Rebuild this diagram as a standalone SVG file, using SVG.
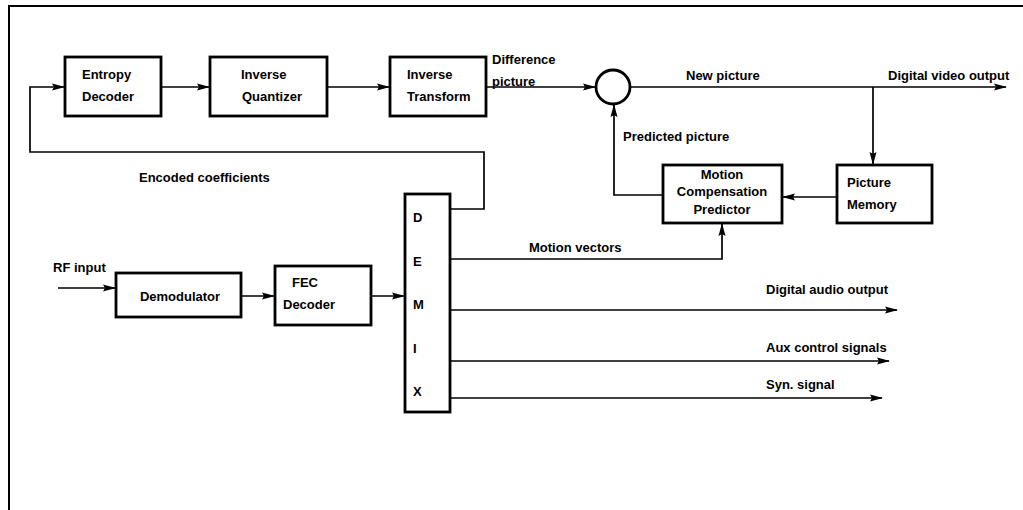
<svg xmlns="http://www.w3.org/2000/svg" width="1023" height="510" viewBox="0 0 1023 510">
<style>
.box{fill:#fff;stroke:#000;stroke-width:2.8}
.ln{fill:none;stroke:#000;stroke-width:1.7}
text{font-family:"Liberation Sans",Arial,sans-serif;font-size:13px;font-weight:bold;fill:#000}
.c{text-anchor:middle}
</style>
<defs>
<marker id="ah" markerWidth="13" markerHeight="8" refX="12" refY="4" orient="auto" markerUnits="userSpaceOnUse">
<path d="M0,0.5 L13,4 L0,7.5 L2,4 Z" fill="#000"/>
</marker>
</defs>
<rect width="1023" height="510" fill="#fff"/>
<g id="frame">
<line x1="8" y1="6" x2="1023" y2="6" stroke="#000" stroke-width="2"/>
<line x1="9" y1="5" x2="9" y2="510" stroke="#000" stroke-width="2"/>
</g>
<g id="connectors">
<line class="ln" x1="161" y1="87" x2="209" y2="87" marker-end="url(#ah)"/>
<line class="ln" x1="327" y1="87" x2="389" y2="87" marker-end="url(#ah)"/>
<line class="ln" x1="486" y1="87" x2="595" y2="87" marker-end="url(#ah)"/>
<line class="ln" x1="630" y1="87" x2="1006" y2="87" marker-end="url(#ah)"/>
<line class="ln" x1="873" y1="87" x2="873" y2="164" marker-end="url(#ah)"/>
<line class="ln" x1="837" y1="197" x2="783" y2="197" marker-end="url(#ah)"/>
<polyline class="ln" points="663,195 614,195 614,105" marker-end="url(#ah)"/>
<polyline class="ln" points="450,209 484,209 484,152 30,152 30,87 64,87" marker-end="url(#ah)"/>
<polyline class="ln" points="450,259 722,259 722,224" marker-end="url(#ah)"/>
<line class="ln" x1="450" y1="310" x2="897" y2="310" marker-end="url(#ah)"/>
<line class="ln" x1="450" y1="361" x2="889" y2="361" marker-end="url(#ah)"/>
<line class="ln" x1="450" y1="398" x2="882" y2="398" marker-end="url(#ah)"/>
<line class="ln" x1="58" y1="288" x2="115" y2="288" marker-end="url(#ah)"/>
<line class="ln" x1="241" y1="296" x2="274" y2="296" marker-end="url(#ah)"/>
<line class="ln" x1="371" y1="296" x2="404" y2="296" marker-end="url(#ah)"/>
</g>
<g id="labels">
<text x="492" y="64">Difference</text>
<text x="492" y="86">picture</text>
<text x="686" y="80">New picture</text>
<text x="888" y="80">Digital video output</text>
<text x="623" y="141">Predicted picture</text>
<text x="139" y="182">Encoded coefficients</text>
<text x="529" y="252">Motion vectors</text>
<text x="766" y="294">Digital audio output</text>
<text x="766" y="352">Aux control signals</text>
<text x="766" y="389">Syn. signal</text>
<text x="53" y="272">RF input</text>
</g>
<g id="entropy-decoder">
<rect class="box" x="65" y="57" width="96" height="59"/>
<text x="82" y="79">Entropy</text>
<text x="82" y="101">Decoder</text>
</g>
<g id="inverse-quantizer">
<rect class="box" x="210" y="57" width="117" height="59"/>
<text x="241" y="79">Inverse</text>
<text x="242" y="101">Quantizer</text>
</g>
<g id="inverse-transform">
<rect class="box" x="390" y="57" width="96" height="59"/>
<text x="407" y="79">Inverse</text>
<text x="407" y="101">Transform</text>
</g>
<g id="adder">
<circle cx="613" cy="87" r="17" fill="#fff" stroke="#000" stroke-width="2.8"/>
</g>
<g id="picture-memory">
<rect class="box" x="837" y="165" width="95" height="58"/>
<text x="847" y="187">Picture</text>
<text x="847" y="209">Memory</text>
</g>
<g id="motion-compensation-predictor">
<rect class="box" x="663" y="165" width="119" height="58"/>
<text class="c" x="722" y="179">Motion</text>
<text class="c" x="722" y="196">Compensation</text>
<text class="c" x="722" y="214">Predictor</text>
</g>
<g id="demux">
<rect class="box" x="405" y="194" width="45" height="218"/>
<text x="413" y="222">D</text>
<text x="413" y="266">E</text>
<text x="413" y="309">M</text>
<text x="413" y="353">I</text>
<text x="413" y="396">X</text>
</g>
<g id="demodulator">
<rect class="box" x="116" y="273" width="125" height="44"/>
<text class="c" x="180" y="301">Demodulator</text>
</g>
<g id="fec-decoder">
<rect class="box" x="275" y="266" width="96" height="59"/>
<text x="292" y="287">FEC</text>
<text x="283" y="309">Decoder</text>
</g>
</svg>
